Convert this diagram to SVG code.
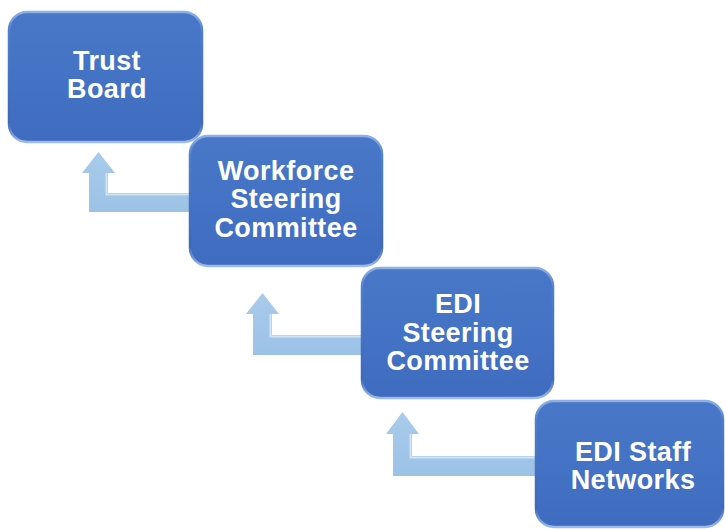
<svg xmlns="http://www.w3.org/2000/svg" width="725" height="529" viewBox="0 0 725 529">
  <defs>
    <linearGradient id="boxFill" x1="0" y1="0" x2="0" y2="1">
      <stop offset="0" stop-color="#4A78C8"/>
      <stop offset="0.5" stop-color="#4472C4"/>
      <stop offset="1" stop-color="#3F6CBE"/>
    </linearGradient>
    <linearGradient id="boxEdge" x1="0" y1="0" x2="0" y2="1">
      <stop offset="0" stop-color="#8FB0E6"/>
      <stop offset="0.15" stop-color="#4F7ECC"/>
      <stop offset="0.85" stop-color="#3D69B8"/>
      <stop offset="1" stop-color="#9DBBEA"/>
    </linearGradient>
    <linearGradient id="arrowFill" x1="0" y1="0" x2="0" y2="1">
      <stop offset="0" stop-color="#A9CBEB"/>
      <stop offset="1" stop-color="#9CC2E6"/>
    </linearGradient>
    <style>
      .box { fill: url(#boxFill); stroke: url(#boxEdge); stroke-width: 2.5; }
      .lbl { font-family: "Liberation Sans", Arial, sans-serif; font-weight: bold; font-size: 27px; letter-spacing: 0.4px; fill: #FFFFFF; text-anchor: middle; }
      .arrow { fill: url(#arrowFill); stroke: none; }
      .hl { fill: none; stroke: #CFE3F6; stroke-width: 2; stroke-linejoin: miter; }
    </style>
  </defs>
  <rect width="725" height="529" fill="#FFFFFF"/>
  <g id="connectors">
    <g id="arrow1">
      <path class="arrow" d="M 192,193 L 108,193 L 108,173 L 115,173 L 98.5,152 L 82,173 L 89,173 L 89,212 L 192,212 Z"/>
      <path class="hl" d="M 192,194.5 L 106.5,194.5 L 106.5,173"/>
    </g>
    <g id="arrow2">
      <path class="arrow" d="M 364,335 L 272,335 L 272,314 L 279,314 L 262.5,293 L 246,314 L 253,314 L 253,355 L 364,355 Z"/>
      <path class="hl" d="M 364,336.5 L 270.5,336.5 L 270.5,314"/>
    </g>
    <g id="arrow3">
      <path class="arrow" d="M 537,456 L 412,456 L 412,434 L 419,434 L 402.5,412 L 386,434 L 393,434 L 393,476 L 537,476 Z"/>
      <path class="hl" d="M 537,457.5 L 410.5,457.5 L 410.5,434"/>
    </g>
  </g>
  <g id="trust-board">
    <rect class="box" x="9" y="12" width="193" height="130" rx="18" ry="18"/>
    <text class="lbl" x="107" y="70">Trust</text>
    <text class="lbl" x="107" y="98">Board</text>
  </g>
  <g id="workforce-steering">
    <rect class="box" x="190" y="136" width="192" height="130" rx="18" ry="18"/>
    <text class="lbl" x="286" y="180">Workforce</text>
    <text class="lbl" x="286" y="208">Steering</text>
    <text class="lbl" x="286" y="237">Committee</text>
  </g>
  <g id="edi-steering">
    <rect class="box" x="362" y="268" width="191" height="130" rx="18" ry="18"/>
    <text class="lbl" x="458" y="313">EDI</text>
    <text class="lbl" x="458" y="342">Steering</text>
    <text class="lbl" x="458" y="370">Committee</text>
  </g>
  <g id="edi-staff-networks">
    <rect class="box" x="536" y="401" width="187" height="126" rx="18" ry="18"/>
    <text class="lbl" x="633" y="461">EDI Staff</text>
    <text class="lbl" x="633" y="489">Networks</text>
  </g>
</svg>
